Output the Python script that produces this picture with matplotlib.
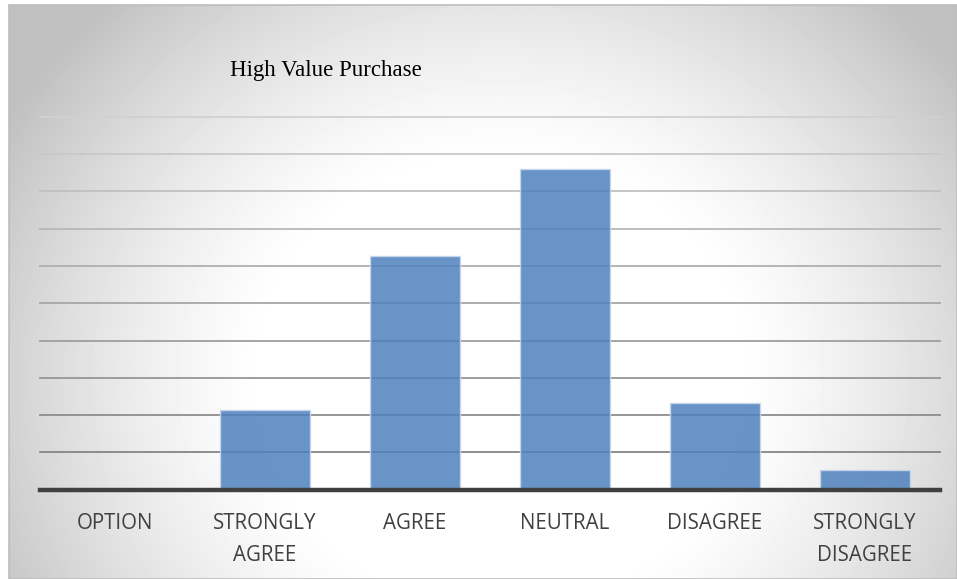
import numpy as np
import matplotlib.pyplot as plt
from matplotlib.patches import Rectangle

# survey answers, share of respondents (%)
categories = ["OPTION", "STRONGLY\nAGREE", "AGREE", "NEUTRAL", "DISAGREE", "STRONGLY\nDISAGREE"]
values = [0, 10.7, 31.3, 43.0, 11.6, 2.7]
grid_steps = [5, 10, 15, 20, 25, 30, 35, 40, 45, 50]

W, H = 957, 579
fig = plt.figure(figsize=(W / 100, H / 100), dpi=100)
fig.patch.set_facecolor("white")

# radial grey-to-white background of the chart area
bx0, by0, bx1, by1 = 9, 5, 957, 579
bg = fig.add_axes([bx0 / W, 1 - by1 / H, (bx1 - bx0) / W, (by1 - by0) / H])
xx, yy = np.meshgrid(np.arange(bx0, bx1), np.arange(by0, by1))
d = np.sqrt(((xx - 500) / 520) ** 2 + ((yy - 380) / 480) ** 2)
shade = 1 - 0.25 * np.clip((d - 0.45) / 0.65, 0, 1) ** 1.3
bg.imshow(shade, cmap="gray", vmin=0, vmax=1, aspect="auto", interpolation="bilinear")
bg.set_axis_off()
fig.add_artist(Rectangle((bx0 / W, 0), (bx1 - bx0) / W, 1 - by0 / H,
                         transform=fig.transFigure, fill=False,
                         edgecolor="#bdbdbd", linewidth=1.2))

# plot area
ax = fig.add_axes([40 / W, (H - 489.7) / H, 900 / W, 373 / H])
ax.patch.set_alpha(0)
x = np.arange(len(categories))
ax.set_xlim(-0.5, len(categories) - 0.5)
ax.set_ylim(0, 50)

# gridlines get darker towards the bottom
for i, g in enumerate(grid_steps):
    c = 0.52 + 0.30 * i / (len(grid_steps) - 1)
    ax.axhline(g, color=(c, c, c), linewidth=1.3, zorder=1, clip_on=False)

ax.bar(x, values, width=0.6, color="#4f81bd", alpha=0.85,
       edgecolor="#c9d8ee", linewidth=1, zorder=2)
ax.axhline(0, color="#404040", linewidth=3.2, zorder=3, clip_on=False)

for s in ax.spines.values():
    s.set_visible(False)
ax.set_yticks([])
ax.set_xticks(x)
ax.set_xticklabels(categories, fontfamily="Open Sans", fontsize=14.8,
                   color="#404040", linespacing=1.7)
ax.tick_params(axis="x", length=0, pad=16.5)

fig.text(326 / W, 1 - 76 / H, "High Value Purchase", fontfamily="Liberation Serif",
         fontsize=16.5, color="black", ha="center", va="baseline")

fig.savefig("out.png", dpi=100)
